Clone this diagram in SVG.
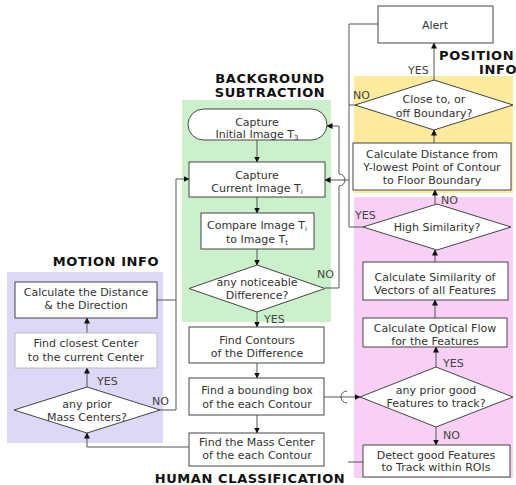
<svg xmlns="http://www.w3.org/2000/svg" width="516" height="485" viewBox="0 0 516 485">
<defs>
<marker id="ah" markerWidth="6" markerHeight="6" refX="5.5" refY="3" orient="auto" markerUnits="userSpaceOnUse">
<path d="M0,0 L6,3 L0,6 Z" fill="#111"/>
</marker>
<style>
.box{fill:#fff;stroke:#444;stroke-width:1}
.t{font-family:"DejaVu Sans",Verdana,sans-serif;font-size:11px;fill:#333;text-anchor:middle}
.lbl{font-family:"DejaVu Sans",Verdana,sans-serif;font-size:11px;fill:#444}
.title{font-family:"DejaVu Sans",Verdana,sans-serif;font-size:13px;font-weight:bold;fill:#111;letter-spacing:0.6px}
.c{fill:none;stroke:#555;stroke-width:1}
.a{marker-end:url(#ah)}
.sub{font-size:7px}
</style>
</defs>
<rect width="516" height="485" fill="#fff"/>
<g id="regions">
<rect x="182" y="100" width="149" height="222" fill="#ccf0cc"/>
<rect x="7" y="272" width="156" height="171" fill="#dcd8f6"/>
<rect x="354" y="76" width="159" height="117" fill="#fcea9f"/>
<rect x="354" y="197" width="159" height="281" fill="#f8d0f5"/>
</g>
<g id="titles">
<text class="title" x="270" y="83" text-anchor="middle">BACKGROUND</text>
<text class="title" x="270" y="97" text-anchor="middle">SUBTRACTION</text>
<text class="title" x="106" y="266" text-anchor="middle">MOTION INFO</text>
<text class="title" x="439" y="60">POSITION</text>
<text class="title" x="479" y="74">INFO</text>
<text class="title" x="250" y="483" text-anchor="middle">HUMAN CLASSIFICATION</text>
</g>
<g id="connectors">
<path class="c a" d="M257,140 V162"/>
<path class="c a" d="M257,197 V213"/>
<path class="c a" d="M257,249 V265"/>
<path class="c a" d="M257,312 V327"/>
<path class="c a" d="M257,363 V378"/>
<path class="c a" d="M257,415 V433"/>
<path class="c a" d="M325,288 H339 V186 A6,6 0 0 0 339,174 V126 H327"/>
<path class="c" d="M355,105 H349"/>
<path class="c" d="M378,24 H349 V227 H363"/>
<path class="c a" d="M349,180 H325"/>
<path class="c a" d="M434,80 V43"/>
<path class="c a" d="M434,143 V130"/>
<path class="c a" d="M435,204 V190"/>
<path class="c a" d="M435,262 V250"/>
<path class="c a" d="M435,318 V300"/>
<path class="c a" d="M436,367 V347"/>
<path class="c a" d="M436,427 V445"/>
<path class="c a" d="M324,397 H360"/>
<path class="c" d="M347,391 A6,6 0 0 0 347,403"/>
<path class="c" d="M363,462 H348"/>
<path class="c a" d="M189,447 H87 V433"/>
<path class="c a" d="M87,387 V368"/>
<path class="c a" d="M87,333 V318"/>
<path class="c a" d="M160,410 H176 V179 H189"/>
<path class="c" d="M157,300 H176"/>
<text class="lbl" x="264" y="323">YES</text>
<text class="lbl" x="317" y="278">NO</text>
<text class="lbl" x="408" y="74">YES</text>
<text class="lbl" x="353" y="99">NO</text>
<text class="lbl" x="441" y="204">NO</text>
<text class="lbl" x="355" y="219">YES</text>
<text class="lbl" x="443" y="367">YES</text>
<text class="lbl" x="443" y="439">NO</text>
<text class="lbl" x="97" y="385">YES</text>
<text class="lbl" x="152" y="405">NO</text>
</g>
<g id="n-initial">
<rect class="box" x="188" y="109" width="139" height="31" rx="15.5"/>
<text class="t" x="257" y="126">Capture</text>
<text class="t" x="257" y="138">Initial Image T<tspan class="sub" dy="2">3</tspan></text>
</g>
<g id="n-current">
<rect class="box" x="189" y="162" width="136" height="35"/>
<text class="t" x="257" y="179">Capture</text>
<text class="t" x="257" y="192">Current Image T<tspan class="sub" dy="2">i</tspan></text>
</g>
<g id="n-compare">
<rect class="box" x="201" y="213" width="113" height="36"/>
<text class="t" x="257" y="229">Compare Image T<tspan class="sub" dy="2">i</tspan></text>
<text class="t" x="257" y="243">to Image T<tspan class="sub" dy="2">t</tspan></text>
</g>
<g id="n-difference">
<polygon class="box" points="257,265 325,288.5 257,312 189,288.5"/>
<text class="t" x="257" y="286">any noticeable</text>
<text class="t" x="257" y="299">Difference?</text>
</g>
<g id="n-contours">
<rect class="box" x="189" y="327" width="135" height="36"/>
<text class="t" x="257" y="344">Find Contours</text>
<text class="t" x="257" y="357">of the Difference</text>
</g>
<g id="n-bounding">
<rect class="box" x="189" y="378" width="135" height="37"/>
<text class="t" x="257" y="394">Find a bounding box</text>
<text class="t" x="257" y="408">of the each Contour</text>
</g>
<g id="n-mass">
<rect class="box" x="189" y="433" width="135" height="33"/>
<text class="t" x="257" y="446">Find the Mass Center</text>
<text class="t" x="257" y="459">of the each Contour</text>
</g>
<g id="n-distance-direction">
<rect class="box" x="15" y="282" width="142" height="36"/>
<text class="t" x="86" y="296">Calculate the Distance</text>
<text class="t" x="86" y="309">&amp; the Direction</text>
</g>
<g id="n-closest">
<rect x="15" y="333" width="142" height="35" fill="#fff" stroke="#bbb"/>
<text class="t" x="86" y="347">Find closest Center</text>
<text class="t" x="86" y="361">to the current Center</text>
</g>
<g id="n-prior-mass">
<polygon class="box" points="87,387 160,410 87,433 14,410"/>
<text class="t" x="87" y="408">any prior</text>
<text class="t" x="87" y="421">Mass Centers?</text>
</g>
<g id="n-alert">
<rect class="box" x="378" y="6" width="115" height="37"/>
<text class="t" x="435" y="29">Alert</text>
</g>
<g id="n-boundary">
<polygon class="box" points="434,80 513,105 434,130 355,105"/>
<text class="t" x="434" y="103">Close to, or</text>
<text class="t" x="434" y="117">off Boundary?</text>
</g>
<g id="n-floor">
<rect class="box" x="353" y="143" width="158" height="47"/>
<text class="t" x="432" y="158">Calculate Distance from</text>
<text class="t" x="432" y="171">Y-lowest Point of Contour</text>
<text class="t" x="432" y="184">to Floor Boundary</text>
</g>
<g id="n-high-sim">
<polygon class="box" points="437,204 511,227 437,250 363,227"/>
<text class="t" x="437" y="231">High Similarity?</text>
</g>
<g id="n-similarity">
<rect class="box" x="363" y="262" width="145" height="38"/>
<text class="t" x="435" y="281">Calculate Similarity of</text>
<text class="t" x="435" y="294">Vectors of all Features</text>
</g>
<g id="n-optical">
<rect class="box" x="363" y="318" width="144" height="29"/>
<text class="t" x="435" y="332">Calculate Optical Flow</text>
<text class="t" x="435" y="345">for the Features</text>
</g>
<g id="n-prior-features">
<polygon class="box" points="436,367 513,397 436,427 360,397"/>
<text class="t" x="436" y="394">any prior good</text>
<text class="t" x="436" y="407">Features to track?</text>
</g>
<g id="n-detect">
<rect class="box" x="363" y="445" width="147" height="32"/>
<text class="t" x="436" y="459">Detect good Features</text>
<text class="t" x="436" y="471">to Track within ROIs</text>
</g>
</svg>
